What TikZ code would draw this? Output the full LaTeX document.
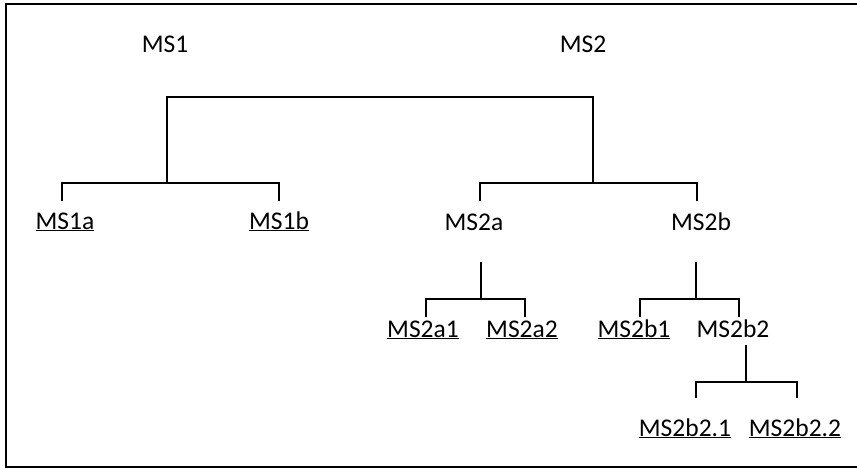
\documentclass[tikz,border=0pt]{standalone}
\usepackage{fontspec}
\setmainfont{Carlito}
\begin{document}
\begin{tikzpicture}[x=1pt,y=-1pt,
  lbl/.style={anchor=base,inner sep=0pt,font=\fontsize{25.5}{30}\selectfont},
  tree/.style={line width=1.9pt,line cap=rect},
  frame/.style={line width=2.8pt}]
\useasboundingbox (0,0) rectangle (857,469);
\clip (0,0) rectangle (857,469);
\draw[frame] (870,4) -- (6,4) -- (6,467) -- (870,467);

% labels
\node[lbl] (ms1) at (165,52) {MS1};
\node[lbl] (ms2) at (583,52) {MS2};
\node[lbl] (ms1a) at (65,229) {\underline{MS1a}};
\node[lbl] (ms1b) at (279,229) {\underline{MS1b}};
\node[lbl] (ms2a) at (474,230) {MS2a};
\node[lbl] (ms2b) at (701,230) {MS2b};
\node[lbl] (ms2a1) at (423,337) {\underline{MS2a1}};
\node[lbl] (ms2a2) at (522,337) {\underline{MS2a2}};
\node[lbl] (ms2b1) at (634,337) {\underline{MS2b1}};
\node[lbl] (ms2b2) at (733,337) {MS2b2};
\node[lbl] (ms2b21) at (685,436) {\underline{MS2b2.1}};
\node[lbl] (ms2b22) at (795,436) {\underline{MS2b2.2}};

% junctions
\coordinate (r1) at (167,97);
\coordinate (r2) at (593,97);
\coordinate (b1) at (167,183);
\coordinate (b2) at (593,183);
\coordinate (t1a) at (62,200);
\coordinate (t1b) at (279,200);
\coordinate (t2a) at (480,200);
\coordinate (t2b) at (697,200);

\coordinate (a2top) at (481,263);
\coordinate (a2bar) at (481,299);
\coordinate (t2a1) at (426,316);
\coordinate (t2a2) at (525,316);

\coordinate (b2top) at (696,263);
\coordinate (b2bar) at (696,299);
\coordinate (t2b1) at (640,316);
\coordinate (t2b2) at (739,316);

\coordinate (b22top) at (746,346);
\coordinate (b22bar) at (746,382);
\coordinate (t2b21) at (696,397);
\coordinate (t2b22) at (797,397);

\draw[tree] (b1) -- (r1) -- (r2) -- (b2);
\draw[tree] (t1a) |- (b1) -| (t1b);
\draw[tree] (t2a) |- (b2) -| (t2b);
\draw[tree] (a2top) -- (a2bar);
\draw[tree] (t2a1) |- (a2bar) -| (t2a2);
\draw[tree] (b2top) -- (b2bar);
\draw[tree] (t2b1) |- (b2bar) -| (t2b2);
\draw[tree] (b22top) -- (b22bar);
\draw[tree] (t2b21) |- (b22bar) -| (t2b22);
\end{tikzpicture}
\end{document}
